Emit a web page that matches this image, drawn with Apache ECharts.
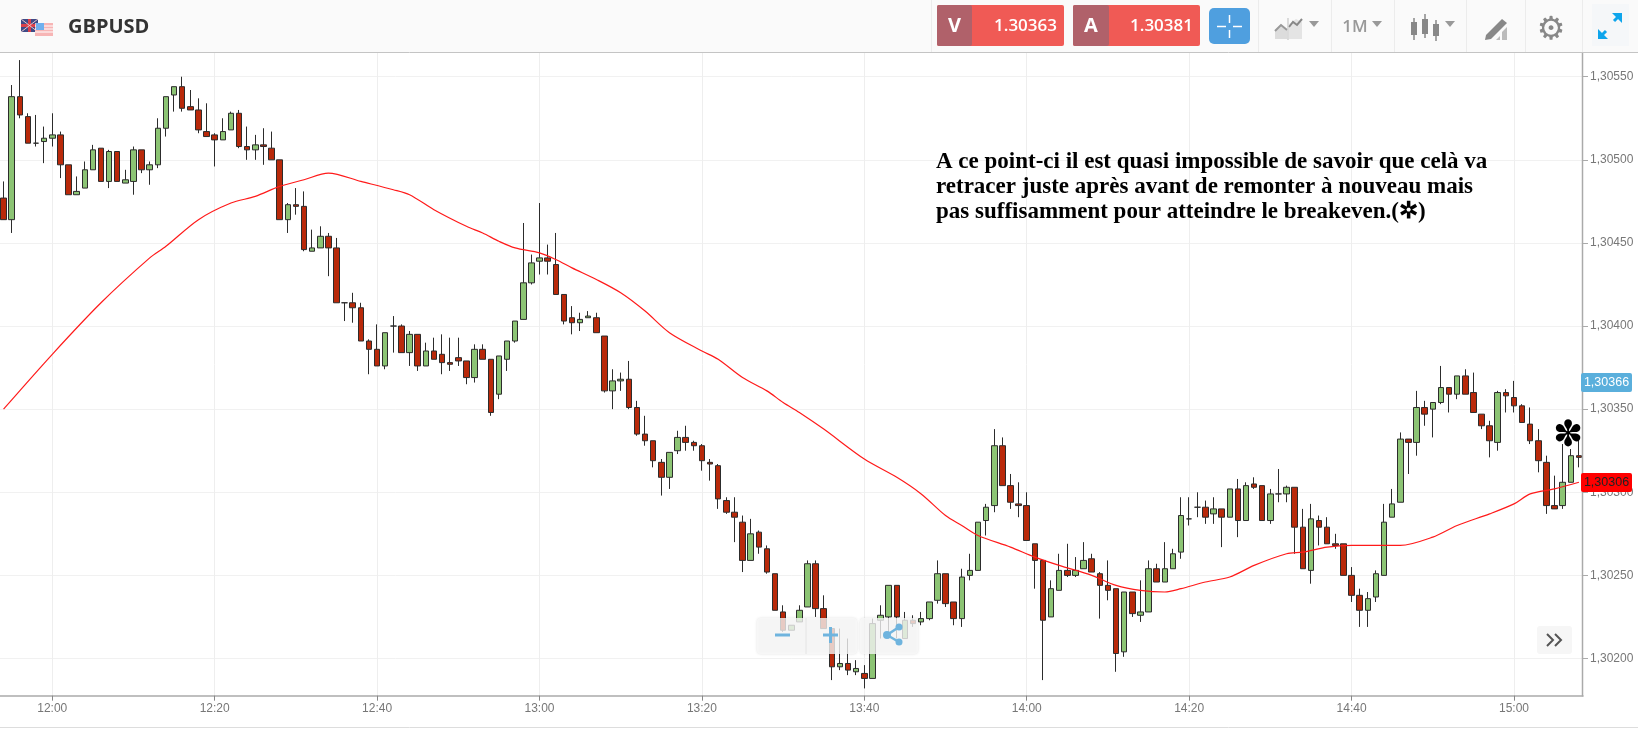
<!DOCTYPE html>
<html><head><meta charset="utf-8">
<style>html,body{margin:0;padding:0;background:#fff}#c{width:1638px;height:729px}</style>
<script src="https://cdn.jsdelivr.net/npm/echarts@6/dist/echarts.min.js"></script>
</head><body><div id="c"></div>
<script>
const firstMinute = 11*60+54;
const opens = [1.30477,1.30464,1.30538,1.30526,1.30510,1.30511,1.30513,1.30515,1.30497,1.30479,
1.30483,1.30494,1.30507,1.30487,1.30505,1.30486,1.30487,1.30506,1.30494,1.30497,
1.30519,1.30539,1.30544,1.30532,1.30530,1.30517,1.30515,1.30512,1.30518,1.30528,
1.30508,1.30506,1.30509,1.30507,1.30500,1.30464,1.30473,1.30472,1.30445,1.30447,
1.30454,1.30447,1.30414,1.30414,1.30411,1.30391,1.30386,1.30376,1.30400,1.30400,
1.30384,1.30395,1.30376,1.30385,1.30383,1.30378,1.30381,1.30379,1.30369,1.30386,
1.30380,1.30359,1.30380,1.30391,1.30404,1.30426,1.30439,1.30441,1.30437,1.30419,
1.30405,1.30402,1.30405,1.30405,1.30394,1.30361,1.30367,1.30368,1.30351,1.30335,
1.30331,1.30318,1.30309,1.30325,1.30333,1.30330,1.30328,1.30318,1.30316,1.30295,
1.30288,1.30282,1.30259,1.30276,1.30266,1.30251,1.30228,1.30217,1.30222,1.30231,
1.30257,1.30230,1.30218,1.30195,1.30197,1.30192,1.30191,1.30188,1.30223,1.30225,
1.30244,1.30212,1.30223,1.30222,1.30224,1.30235,1.30251,1.30234,1.30224,1.30250,
1.30253,1.30283,1.30292,1.30328,1.30304,1.30293,1.30292,1.30269,1.30259,1.30225,
1.30241,1.30253,1.30250,1.30254,1.30260,1.30251,1.30244,1.30242,1.30204,1.30240,
1.30226,1.30228,1.30254,1.30246,1.30254,1.30264,1.30284,1.30291,1.30291,1.30287,
1.30290,1.30285,1.30302,1.30283,1.30305,1.30304,1.30283,1.30299,1.30299,1.30303,
1.30279,1.30253,1.30283,1.30279,1.30269,1.30269,1.30250,1.30238,1.30229,1.30237,
1.30250,1.30285,1.30294,1.30332,1.30330,1.30351,1.30350,1.30354,1.30363,1.30359,
1.30370,1.30360,1.30347,1.30340,1.30330,1.30360,1.30357,1.30352,1.30341,1.30331,
1.30318,1.30292,1.30292,1.30306,1.30322];
const closes = [1.30464,1.30538,1.30527,1.30510,1.30510,1.30513,1.30515,1.30497,1.30479,1.30481,
1.30494,1.30506,1.30487,1.30505,1.30487,1.30488,1.30506,1.30494,1.30497,1.30519,
1.30538,1.30544,1.30531,1.30530,1.30518,1.30514,1.30512,1.30517,1.30528,1.30508,
1.30506,1.30509,1.30508,1.30500,1.30464,1.30473,1.30472,1.30446,1.30447,1.30454,
1.30447,1.30414,1.30414,1.30411,1.30391,1.30386,1.30376,1.30396,1.30400,1.30384,
1.30395,1.30376,1.30385,1.30380,1.30378,1.30377,1.30379,1.30369,1.30386,1.30380,
1.30348,1.30382,1.30391,1.30403,1.30426,1.30438,1.30441,1.30439,1.30419,1.30403,
1.30402,1.30404,1.30406,1.30396,1.30361,1.30367,1.30368,1.30351,1.30335,1.30331,
1.30319,1.30309,1.30324,1.30333,1.30330,1.30328,1.30319,1.30317,1.30296,1.30288,
1.30285,1.30259,1.30275,1.30267,1.30252,1.30229,1.30217,1.30220,1.30229,1.30257,
1.30230,1.30218,1.30195,1.30197,1.30193,1.30194,1.30188,1.30221,1.30226,1.30244,
1.30225,1.30223,1.30221,1.30224,1.30234,1.30251,1.30233,1.30224,1.30249,1.30253,
1.30282,1.30291,1.30328,1.30304,1.30294,1.30292,1.30271,1.30259,1.30223,1.30242,
1.30253,1.30250,1.30253,1.30259,1.30252,1.30244,1.30241,1.30203,1.30240,1.30227,
1.30228,1.30254,1.30246,1.30254,1.30263,1.30286,1.30284,1.30291,1.30285,1.30290,
1.30285,1.30302,1.30283,1.30304,1.30303,1.30283,1.30299,1.30299,1.30303,1.30279,
1.30254,1.30284,1.30279,1.30269,1.30268,1.30250,1.30238,1.30229,1.30236,1.30251,
1.30282,1.30293,1.30332,1.30330,1.30351,1.30347,1.30354,1.30363,1.30359,1.30370,
1.30359,1.30348,1.30340,1.30331,1.30360,1.30358,1.30352,1.30342,1.30331,1.30319,
1.30292,1.30290,1.30306,1.30322,1.30321];
const highs = [1.30487,1.30545,1.30560,1.30528,1.30527,1.30520,1.30528,1.30517,1.30497,1.30490,
1.30499,1.30509,1.30507,1.30506,1.30505,1.30494,1.30508,1.30506,1.30499,1.30525,
1.30538,1.30544,1.30550,1.30542,1.30537,1.30534,1.30516,1.30525,1.30529,1.30530,
1.30520,1.30515,1.30519,1.30517,1.30500,1.30474,1.30483,1.30481,1.30458,1.30460,
1.30456,1.30453,1.30414,1.30420,1.30414,1.30392,1.30401,1.30396,1.30406,1.30401,
1.30397,1.30395,1.30390,1.30393,1.30395,1.30393,1.30393,1.30379,1.30389,1.30389,
1.30380,1.30382,1.30391,1.30403,1.30462,1.30443,1.30474,1.30449,1.30456,1.30419,
1.30412,1.30408,1.30409,1.30408,1.30394,1.30374,1.30372,1.30379,1.30355,1.30346,
1.30331,1.30320,1.30324,1.30337,1.30340,1.30331,1.30329,1.30320,1.30317,1.30297,
1.30297,1.30286,1.30284,1.30277,1.30268,1.30251,1.30232,1.30220,1.30232,1.30259,
1.30259,1.30238,1.30218,1.30218,1.30212,1.30199,1.30196,1.30224,1.30232,1.30244,
1.30244,1.30228,1.30226,1.30228,1.30234,1.30259,1.30251,1.30234,1.30254,1.30263,
1.30282,1.30293,1.30338,1.30333,1.30311,1.30306,1.30300,1.30269,1.30259,1.30247,
1.30263,1.30269,1.30261,1.30270,1.30263,1.30252,1.30259,1.30242,1.30240,1.30240,
1.30247,1.30259,1.30257,1.30270,1.30266,1.30297,1.30297,1.30300,1.30295,1.30297,
1.30290,1.30302,1.30308,1.30306,1.30309,1.30304,1.30302,1.30314,1.30304,1.30303,
1.30290,1.30293,1.30286,1.30285,1.30275,1.30269,1.30255,1.30242,1.30240,1.30253,
1.30293,1.30302,1.30336,1.30332,1.30361,1.30355,1.30354,1.30376,1.30363,1.30370,
1.30374,1.30372,1.30347,1.30343,1.30361,1.30362,1.30367,1.30353,1.30351,1.30338,
1.30322,1.30310,1.30329,1.30326,1.30334];
const lows = [1.30464,1.30456,1.30525,1.30510,1.30508,1.30498,1.30508,1.30489,1.30479,1.30479,
1.30483,1.30494,1.30487,1.30483,1.30487,1.30486,1.30479,1.30492,1.30485,1.30495,
1.30514,1.30529,1.30529,1.30530,1.30516,1.30514,1.30496,1.30512,1.30518,1.30507,
1.30500,1.30500,1.30497,1.30500,1.30464,1.30456,1.30467,1.30445,1.30445,1.30447,
1.30430,1.30414,1.30403,1.30402,1.30391,1.30371,1.30376,1.30374,1.30384,1.30384,
1.30376,1.30373,1.30376,1.30380,1.30371,1.30373,1.30376,1.30365,1.30366,1.30380,
1.30346,1.30356,1.30373,1.30390,1.30404,1.30425,1.30431,1.30431,1.30419,1.30401,
1.30395,1.30397,1.30405,1.30396,1.30360,1.30350,1.30361,1.30350,1.30334,1.30328,
1.30315,1.30298,1.30302,1.30323,1.30325,1.30325,1.30313,1.30307,1.30290,1.30287,
1.30270,1.30252,1.30259,1.30263,1.30251,1.30229,1.30216,1.30217,1.30222,1.30231,
1.30225,1.30218,1.30187,1.30193,1.30190,1.30190,1.30182,1.30188,1.30212,1.30212,
1.30212,1.30212,1.30219,1.30220,1.30223,1.30233,1.30231,1.30220,1.30219,1.30247,
1.30253,1.30274,1.30288,1.30304,1.30290,1.30285,1.30271,1.30242,1.30187,1.30225,
1.30241,1.30249,1.30249,1.30254,1.30252,1.30224,1.30235,1.30192,1.30201,1.30225,
1.30222,1.30228,1.30246,1.30246,1.30254,1.30260,1.30280,1.30285,1.30281,1.30281,
1.30267,1.30285,1.30273,1.30283,1.30302,1.30283,1.30281,1.30294,1.30294,1.30263,
1.30254,1.30245,1.30268,1.30269,1.30266,1.30250,1.30234,1.30219,1.30219,1.30234,
1.30250,1.30285,1.30294,1.30311,1.30322,1.30340,1.30333,1.30353,1.30348,1.30356,
1.30359,1.30348,1.30338,1.30321,1.30325,1.30348,1.30348,1.30342,1.30329,1.30312,
1.30287,1.30290,1.30290,1.30306,1.30315];
const maMinutes = [0,6,12,18,20,24,28,31,34,37,40,44,48,50,53,57,59,61,63,66,68,70,73,76,79,82,86,88,91,94,96,98,101,106,110,113,116,118,120,124,127,130,134,137,140,143,145,148,151,154,158,160,163,166,170,172,176,179,183,186,188,191,194];
const maValues = [1.30350,1.30383,1.30414,1.30441,1.30448,1.30464,1.30474,1.30478,1.30484,1.30488,1.30492,1.30487,1.30482,1.30479,1.30470,1.30460,1.30456,1.30451,1.30447,1.30444,1.30440,1.30435,1.30428,1.30420,1.30409,1.30396,1.30385,1.30380,1.30369,1.30361,1.30354,1.30348,1.30338,1.30320,1.30309,1.30299,1.30286,1.30280,1.30274,1.30267,1.30261,1.30256,1.30250,1.30244,1.30241,1.30240,1.30242,1.30246,1.30249,1.30256,1.30263,1.30264,1.30267,1.30268,1.30268,1.30268,1.30273,1.30280,1.30287,1.30293,1.30299,1.30302,1.30306];
const categories = opens.map((_, i) => {
  const t = firstMinute + i;
  return String(Math.floor(t/60)).padStart(2,'0') + ':' + String(t%60).padStart(2,'0');
});
const maSeries = categories.map(() => null);
maMinutes.forEach((m, k) => { maSeries[m] = maValues[k]; });
const ohlc = opens.map((o, i) => [o, closes[i], lows[i], highs[i]]);
const every20 = (i) => (firstMinute + i) % 20 === 0;
const priceLabel = (v) => v.toFixed(5).replace('.', ',');

const G = '#999';
const rect = (x,y,w,h,fill,z,extra) => Object.assign({type:'rect',shape:{x,y,width:w,height:h,r:(extra&&extra.r)||0},style:Object.assign({fill},(extra&&extra.style)||{}),z,silent:true});
const line = (x1,y1,x2,y2,stroke,lw,z) => ({type:'line',shape:{x1,y1,x2,y2},style:{stroke,lineWidth:lw},z,silent:true});
const txt = (x,y,text,font,fill,z,align,vert) => ({type:'text',x,y,style:{text,font,fill,align:align||'left',verticalAlign:vert||'middle'},z,silent:true});
const poly = (points,fill,z) => ({type:'polygon',shape:{points},style:{fill},z,silent:true});
const pline = (points,stroke,lw,z) => ({type:'polyline',shape:{points},style:{stroke,lineWidth:lw,fill:'none'},z,silent:true});
const caret = (cx,cy) => poly([[cx-5,cy-3],[cx+5,cy-3],[cx,cy+3]],G,21);

const decor = [
  rect(0,696,1638,33,'#fff',1),
  line(0,727.5,1638,727.5,'#ddd',1,2),
  line(1582.5,53,1582.5,696.5,'#aaa',1.5,5),
  {type:'text',x:936,y:150,style:{text:"A ce point-ci il est quasi impossible de savoir que celà va\nretracer juste après avant de remonter à nouveau mais\npas suffisamment pour atteindre le breakeven.(✲)",font:'bold 23px "Liberation Serif"',fill:'#000',lineHeight:25},z:9,silent:true},
  txt(1568,437,'✽','bold 36px "DejaVu Sans"','#000',9,'center'),
  rect(757,618,100,36,'rgba(250,250,250,0.78)',10,{r:4,style:{shadowBlur:3,shadowColor:'rgba(0,0,0,0.15)'}}),
  rect(860,618,58,36,'rgba(250,250,250,0.78)',10,{r:4,style:{shadowBlur:3,shadowColor:'rgba(0,0,0,0.15)'}}),
  line(806,618,806,654,'#e4e4e4',1,11),
  line(775,635,790,635,'#6fb4de',3,11),
  line(823,635,838,635,'#6fb4de',3,11),
  line(830.5,627,830.5,643,'#6fb4de',3,11),
  pline([[899,627],[887,635],[899,642]],'#6fb4de',2.5,11),
  {type:'circle',shape:{cx:887,cy:635,r:4},style:{fill:'#6fb4de'},z:11,silent:true},
  {type:'circle',shape:{cx:899,cy:627,r:3.5},style:{fill:'#6fb4de'},z:11,silent:true},
  {type:'circle',shape:{cx:899,cy:642,r:3.5},style:{fill:'#6fb4de'},z:11,silent:true},
  rect(1537,626,35,28,'#f6f6f6',10,{r:3}),
  pline([[1547,634],[1553,640],[1547,646]],'#555',2,11),
  pline([[1555,634],[1561,640],[1555,646]],'#555',2,11),
  rect(1581,373,51,19,'#5aafdc',15,{r:2}),
  txt(1606.5,382.5,'1,30366','12.5px "Liberation Sans"','#fff',16,'center'),
  rect(1581,473,51,19,'#ff0000',15,{r:2}),
  txt(1606.5,482.5,'1,30306','12.5px "Liberation Sans"','#222',16,'center'),
  rect(0,0,1638,52,'#fafafa',20),
  line(0,52.5,1638,52.5,'#c4c4c4',1,21),
  rect(21,19,17,13,'#3f4a86',21),
  line(21,25.5,38,25.5,'#d8404a',3,22),
  line(29.5,19,29.5,32,'#d8404a',3,22),
  line(21,19,38,32,'#e8c8cc',1,22),
  line(38,19,21,32,'#e8c8cc',1,22),
  rect(35,23,18,13,'#f7b5b5',23),
  line(35,26,53,26,'#fff',1,24),
  line(35,29,53,29,'#fff',1,24),
  line(35,32,53,32,'#fff',1,24),
  rect(36,23,8,7,'#6fb0ee',25),
  txt(68,27,'GBPUSD','bold 20px "Open Sans"','#333',21),
  line(931.5,0,931.5,52,'#ececec',1,21),
  line(1258.5,0,1258.5,52,'#ececec',1,21),
  line(1331.5,0,1331.5,52,'#ececec',1,21),
  line(1394.5,0,1394.5,52,'#ececec',1,21),
  line(1466.5,0,1466.5,52,'#ececec',1,21),
  line(1525.5,0,1525.5,52,'#ececec',1,21),
  line(1582.5,0,1582.5,52,'#ececec',1,21),
  rect(937,5,127,41,'#f05a55',21,{r:2}),
  rect(937,5,35,41,'#b0616a',22,{r:2}),
  txt(954.5,26,'V','bold 20px "Open Sans"','#fff',23,'center'),
  txt(1057,26,'1.30363','600 17px "Open Sans"','#fff',23,'right'),
  rect(1073,5,127,41,'#f05a55',21,{r:2}),
  rect(1073,5,36,41,'#b0616a',22,{r:2}),
  txt(1091,26,'A','bold 20px "Open Sans"','#fff',23,'center'),
  txt(1193,26,'1.30381','600 17px "Open Sans"','#fff',23,'right'),
  rect(1209,8,41,36,'#4f9fdf',21,{r:5}),
  line(1217,26.5,1226,26.5,'#fff',1.5,22),
  line(1233,26.5,1242,26.5,'#fff',1.5,22),
  line(1229.5,15,1229.5,23,'#fff',1.5,22),
  line(1229.5,30,1229.5,38,'#fff',1.5,22),
  poly([[1275,39],[1275,30],[1281,24],[1287,29],[1287,39]],'#dcdcdc',21),
  poly([[1289,39],[1289,24],[1296,19],[1302,22],[1302,39]],'#e4e4e4',21),
  pline([[1275,31],[1281,25],[1287,30]],'#999',2,22),
  pline([[1289,27],[1293,22],[1297,25],[1302,19]],'#888',2,22),
  line(1288,18,1288,40,'#bbb',1,22),
  caret(1314,24),
  txt(1355,27,'1M','600 17px "Open Sans"',G,21,'center'),
  caret(1377,24),
  line(1414,18,1414,40,'#888',1.5,21),rect(1411,22,6,13,'#888',22),
  line(1425,14,1425,38,'#888',1.5,21),rect(1422,19,6,15,'#888',22),
  line(1436,20,1436,41,'#888',1.5,21),rect(1433,24,6,12,'#888',22),
  caret(1450,24),
  poly([[1486,35],[1502,19],[1507,23],[1491,39],[1485,40]],'#888',21),
  poly([[1496,40],[1500,36],[1500,40]],'#bbb',21),
  poly([[1502,40],[1502,32],[1507,27],[1507,40]],'#bbb',21),
  txt(1551,31,'⚙','32px "DejaVu Sans"','#888',21,'center'),
  rect(1592,4,37,42,'#f5f7f9',21),
  line(1600,37,1606,31,'#0ea5ec',3,22),
  poly([[1598,29],[1598,39],[1608,39]],'#0ea5ec',22),
  line(1614,21,1620,15,'#0ea5ec',3,22),
  poly([[1612,13],[1622,13],[1622,23]],'#0ea5ec',22),
];

const chart = echarts.init(document.getElementById('c'), null, {renderer:'canvas'});
chart.setOption({
  animation:false,
  backgroundColor:'#fff',
  grid:{left:-0.5,top:-6.4,width:1583.5,height:748,containLabel:false,outerBoundsMode:'none'},
  tooltip:{show:false},
  xAxis:[
    {type:'category',data:categories,boundaryGap:true,z:0,
     axisLine:{show:false},axisTick:{show:false},axisLabel:{show:false},
     splitLine:{show:true,interval:every20,alignWithLabel:true,lineStyle:{color:'#eeeeee',width:1}}},
    {type:'category',data:categories,boundaryGap:true,z:5,position:'bottom',offset:-45.9,
     axisLine:{show:true,onZero:false,lineStyle:{color:'#aaa',width:1.5}},
     axisTick:{show:true,interval:every20,alignWithLabel:true,length:5,lineStyle:{color:'#888'}},
     axisLabel:{show:true,interval:every20,color:'#777',fontSize:12,fontFamily:'Liberation Sans',margin:7,hideOverlap:false},
     splitLine:{show:false}}
  ],
  yAxis:{type:'value',position:'right',min:1.3015,max:1.306,interval:0.0005,z:0,scale:true,
     axisLine:{show:false},
     axisTick:{show:true,length:5,lineStyle:{color:'#aaa'}},
     axisLabel:{color:'#777',fontSize:12,fontFamily:'Liberation Sans',margin:7,formatter:priceLabel},
     splitLine:{show:true,lineStyle:{color:'#f1f1f1',width:1}}},
  series:[
    {type:'candlestick',name:'GBPUSD',data:ohlc,xAxisIndex:0,yAxisIndex:0,barWidth:6,z:2,
     itemStyle:{color:'#8cc474',color0:'#b9290a',borderColor:'#2c2c2c',borderColor0:'#2c2c2c',borderColorDoji:'#2c2c2c',borderWidth:1}},
    {type:'line',name:'MA',data:maSeries,xAxisIndex:0,yAxisIndex:0,connectNulls:true,smooth:0.3,showSymbol:false,symbol:'none',z:3,
     lineStyle:{color:'#ff1a1a',width:1.2}}
  ],
  graphic:{elements:decor}
});
</script></body></html>
